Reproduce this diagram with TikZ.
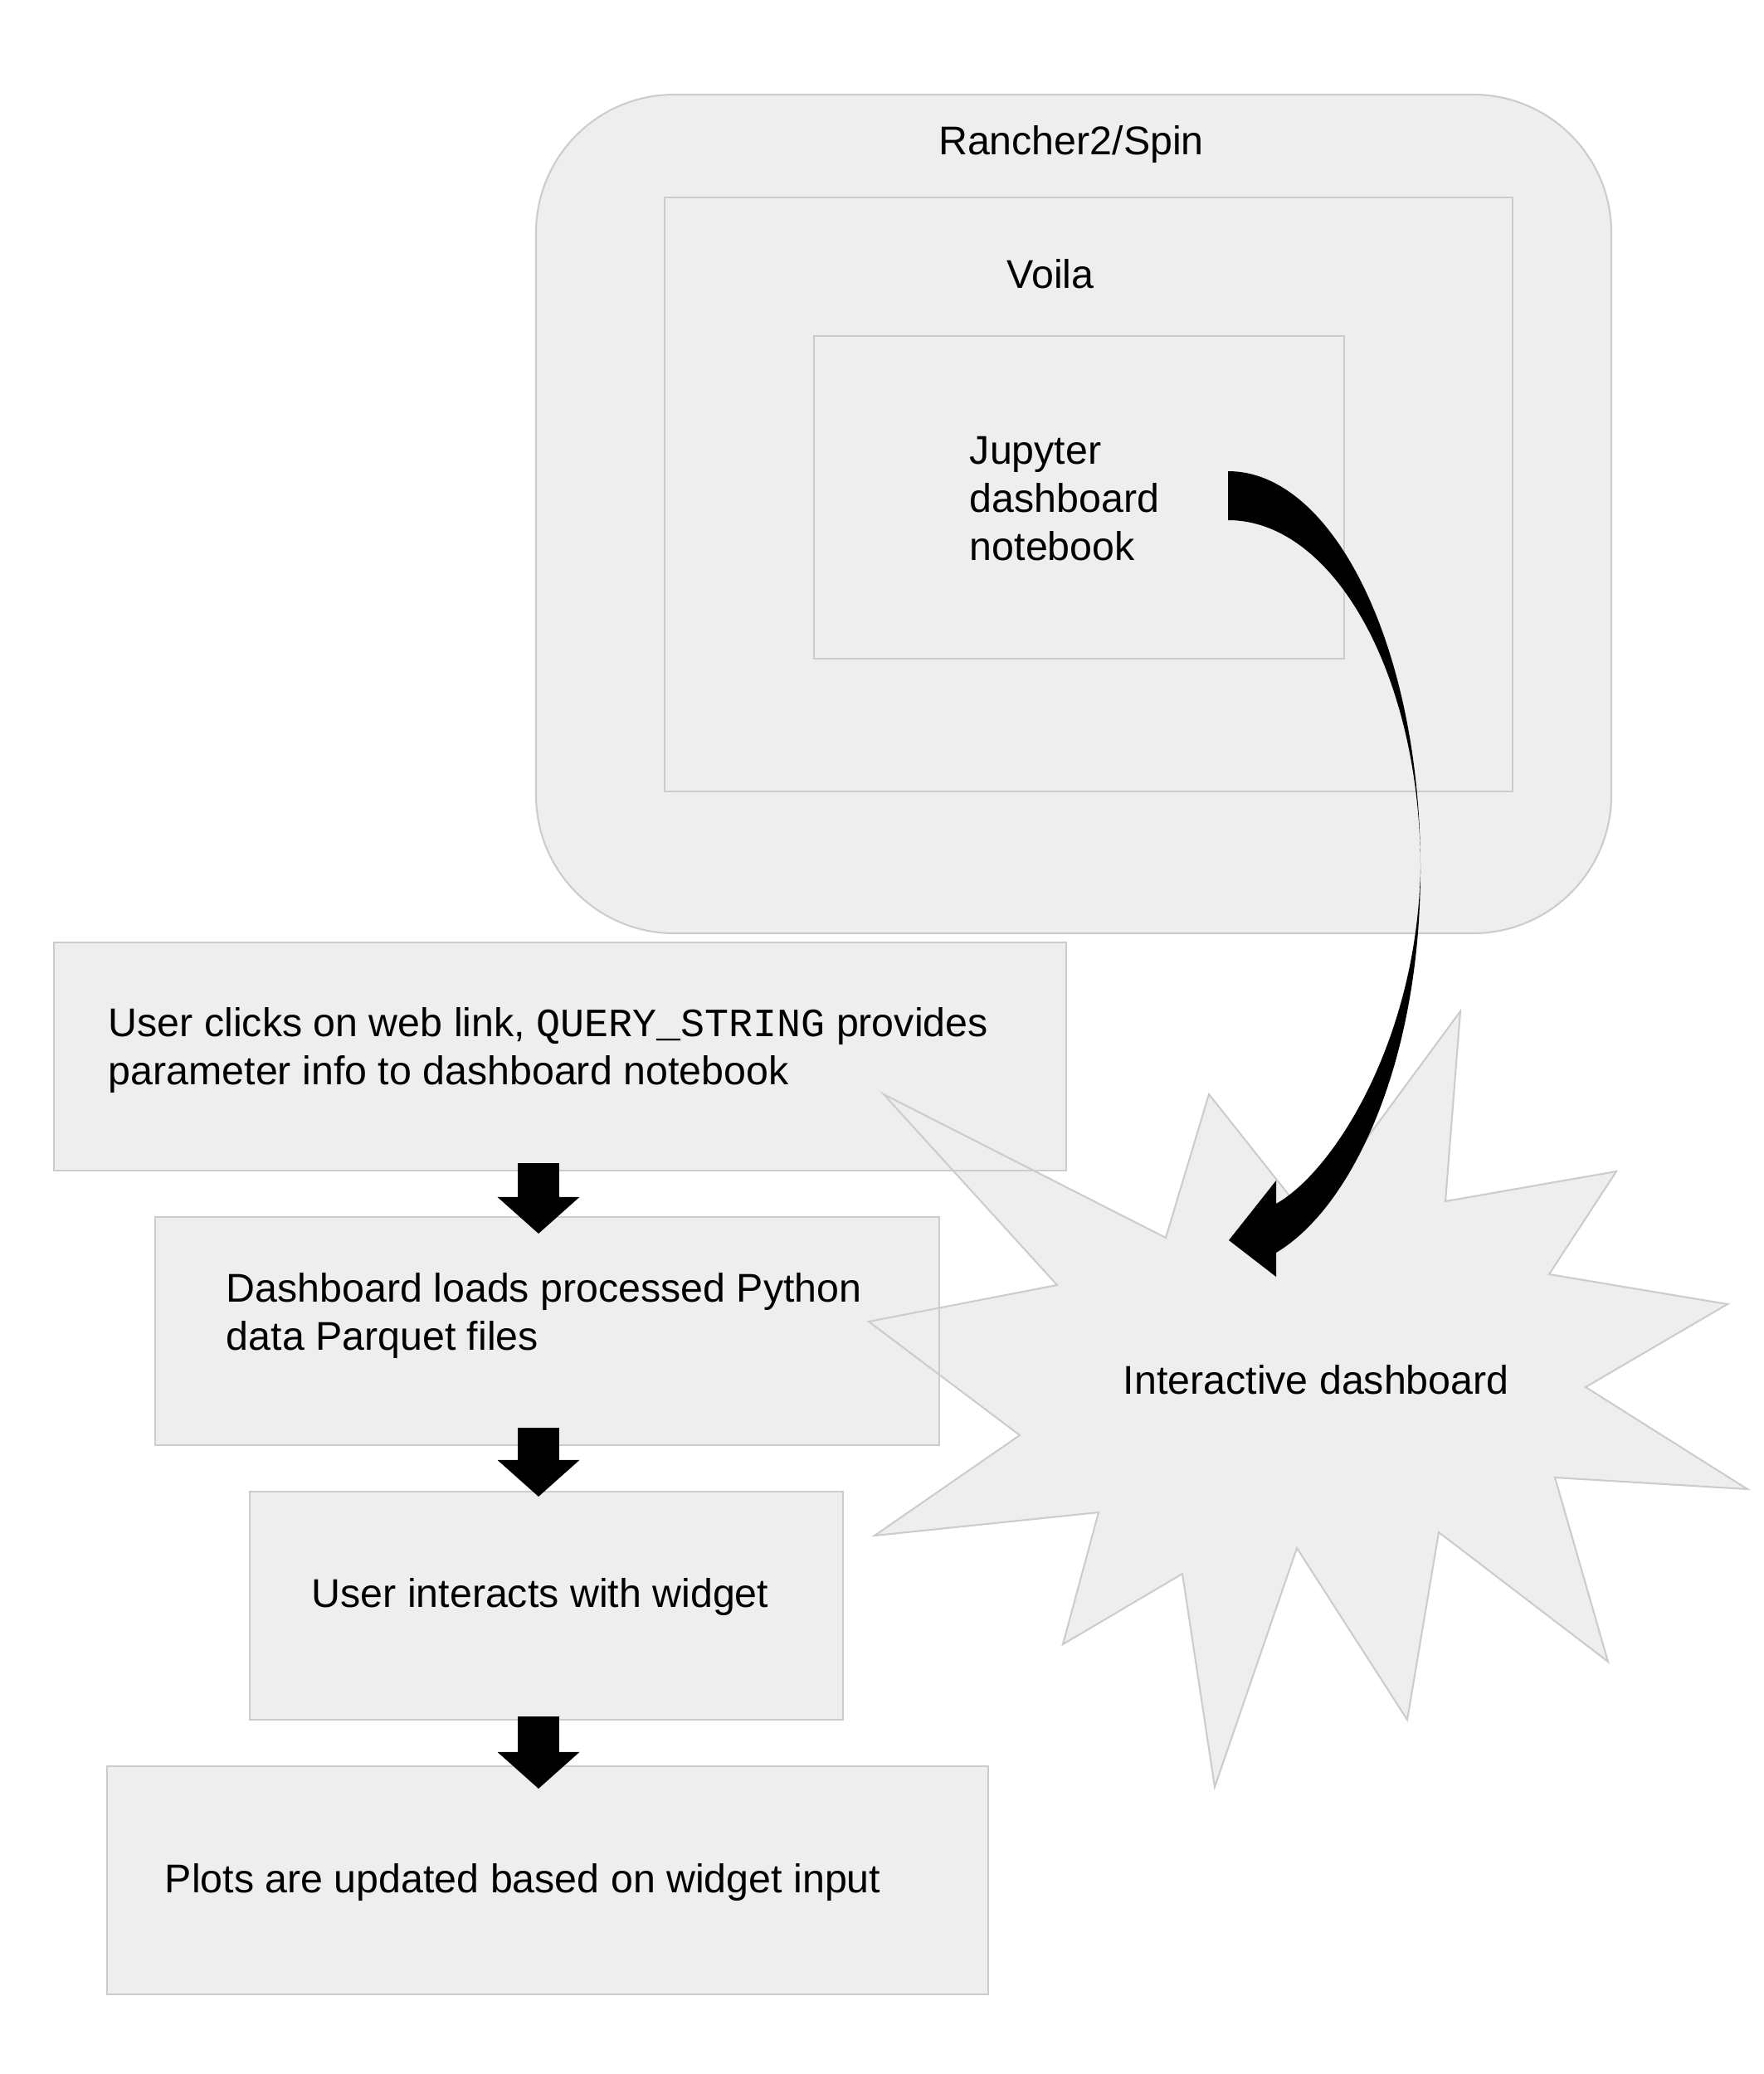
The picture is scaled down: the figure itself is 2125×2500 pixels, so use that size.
\documentclass[tikz,border=0pt]{standalone}
\usepackage{fontspec}
\setmainfont{Liberation Sans}
\setmonofont{Liberation Mono}
\usetikzlibrary{fit,arrows.meta}
\definecolor{boxfill}{HTML}{EEEEEE}
\definecolor{boxline}{HTML}{CCCCCC}
\tikzset{
  box/.style={draw=boxline, fill=boxfill, line width=0.5pt, inner sep=0pt},
  txt/.style={inner sep=0pt, font=\fontsize{11.6pt}{13.9pt}\selectfont, align=left},
  blockarrow/.style={line width=12pt, -{Triangle[width=23.8pt,length=10.6pt,line width=0pt]}},
}
\newcommand\burst{(1065,1319) -- (1274,1549) -- (1047,1593) -- (1229,1730) -- (1054,1851)
  -- (1324,1823) -- (1281,1982) -- (1425,1897) -- (1464,2154) -- (1563,1866)
  -- (1696,2073) -- (1734,1847) -- (1938,2003) -- (1874,1781) -- (2106,1795)
  -- (1911,1672) -- (2082,1572) -- (1867,1536) -- (1948,1412) -- (1742,1448)
  -- (1760,1219) -- (1576,1469) -- (1457,1319) -- (1405,1492) -- cycle}
\begin{document}
\begin{tikzpicture}[x=0.24pt,y=-0.24pt]
  \useasboundingbox (0,0) rectangle (2125,2500);
  % server side
  \node[box, rounded corners=40pt, fit={(646,114) (1942,1125)}] (rancher) {};
  \node[box, fit={(801,238) (1823,954)}] (voila) {};
  \node[box, fit={(981,405) (1620,794)}] (notebook) {};
  \node[txt, anchor=base] (rancher-t) at (1291,187) {Rancher2/Spin};
  \node[txt, anchor=base] (voila-t) at (1266,348) {Voila};
  \node[txt, anchor=base west] (notebook-t) at (1168,675) {Jupyter\\dashboard\\notebook};
  % the dashboard
  \fill[boxfill] \burst;
  % steps
  \node[box, fit={(65,1136) (1285,1411)}] (click) {};
  \node[box, fit={(187,1467) (1132,1742)}] (load) {};
  \node[box, fit={(301,1798) (1016,2073)}] (interact) {};
  \node[box, fit={(129,2129) (1191,2404)}] (plots) {};
  \draw[boxline, line width=0.5pt] \burst;
  \node[txt, anchor=base west] (click-t) at (130,1307)
    {User clicks on web link, \texttt{QUERY\_STRING} provides\\parameter info to dashboard notebook};
  \node[txt, anchor=base west] (load-t) at (272,1627) {Dashboard loads processed Python\\data Parquet files};
  \node[txt, anchor=base] (interact-t) at (651,1937) {User interacts with widget};
  \node[txt, anchor=base west] (plots-t) at (198,2281) {Plots are updated based on widget input};
  \node[txt, anchor=base west] (dash-t) at (1353,1680) {Interactive dashboard};
  \begin{scope}[blockarrow]
    \draw (click.south -| 649,0) ++(0,-10) -- ([yshift=-21*0.24pt]load.north -| 649,0);
    \draw (load.south -| 649,0) ++(0,-22) -- ([yshift=-7*0.24pt]interact.north -| 649,0);
    \draw (interact.south -| 649,0) ++(0,-5) -- ([yshift=-28*0.24pt]plots.north -| 649,0);
  \end{scope}
  % notebook becomes the dashboard
  \coordinate (tail) at (1480,568);
  \coordinate (tip) at (1481,1495);
  \fill (tail) .. controls (1608,568) and (1712,783) .. (1712,1047)
    .. controls (1712,1280) and (1630,1455) .. (1538,1510)
    -- (1538,1539) -- (tip) -- (1538,1423) -- (1538,1451)
    .. controls (1610,1410) and (1708,1250) .. (1712,1047)
    .. controls (1712,815) and (1608,627) .. (1480,627) -- cycle;
\end{tikzpicture}
\end{document}
